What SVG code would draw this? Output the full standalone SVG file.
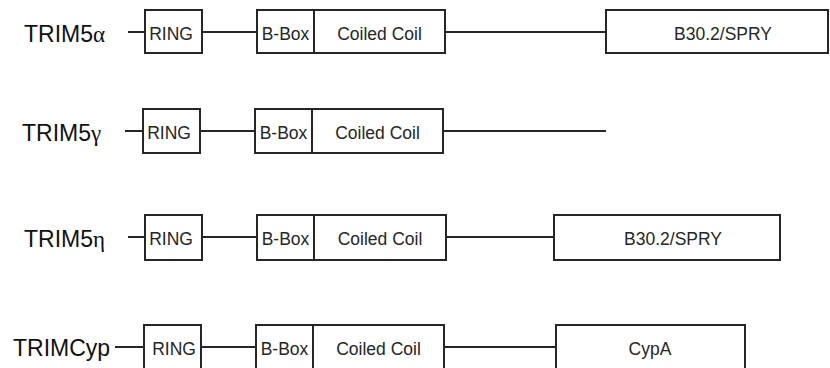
<svg xmlns="http://www.w3.org/2000/svg" width="830" height="368" viewBox="0 0 830 368">
<style>
.box{fill:#fff;stroke:#262626;stroke-width:2}
.ln{stroke:#262626;stroke-width:2;fill:none}
.t{font-family:"Liberation Sans",Arial,sans-serif;font-size:17.5px;fill:#262626;text-anchor:middle}
.lbl{font-family:"Liberation Sans",Arial,sans-serif;font-size:23px;fill:#111}
.gr{font-family:"Liberation Serif","Times New Roman",serif}
</style>
<rect width="830" height="368" fill="#fff"/>
<g id="connectors">
<line class="ln" x1="128" y1="32" x2="145" y2="32"/>
<line class="ln" x1="202" y1="32" x2="257" y2="32"/>
<line class="ln" x1="445" y1="32" x2="606" y2="32"/>
<line class="ln" x1="125" y1="131" x2="143" y2="131"/>
<line class="ln" x1="200" y1="131" x2="255" y2="131"/>
<line class="ln" x1="443" y1="131" x2="606" y2="131"/>
<line class="ln" x1="128" y1="237" x2="145" y2="237"/>
<line class="ln" x1="202" y1="237" x2="257" y2="237"/>
<line class="ln" x1="446" y1="237" x2="554" y2="237"/>
<line class="ln" x1="115" y1="347" x2="144" y2="347"/>
<line class="ln" x1="201" y1="347" x2="256" y2="347"/>
<line class="ln" x1="444" y1="347" x2="556" y2="347"/>
</g>
<g id="row1">
<text class="lbl" x="24" y="42">TRIM5<tspan class="gr">α</tspan></text>
<g id="r1-ring"><rect class="box" x="145" y="10" width="57" height="43"/><text class="t" x="171" y="39.5">RING</text></g>
<g id="r1-bbox"><rect class="box" x="257" y="10" width="57" height="43"/><text class="t" x="285.5" y="39.5">B-Box</text></g>
<g id="r1-cc"><rect class="box" x="314" y="10" width="131" height="43"/><text class="t" x="379.5" y="39.5">Coiled Coil</text></g>
<g id="r1-spry"><rect class="box" x="606" y="10" width="222" height="43"/><text class="t" x="723" y="39.5">B30.2/SPRY</text></g>
</g>
<g id="row2">
<text class="lbl" x="22" y="141">TRIM5<tspan class="gr">γ</tspan></text>
<g id="r2-ring"><rect class="box" x="143" y="109" width="57" height="44"/><text class="t" x="169" y="138.5">RING</text></g>
<g id="r2-bbox"><rect class="box" x="255" y="109" width="57" height="44"/><text class="t" x="283.5" y="138.5">B-Box</text></g>
<g id="r2-cc"><rect class="box" x="312" y="109" width="131" height="44"/><text class="t" x="377.5" y="138.5">Coiled Coil</text></g>
</g>
<g id="row3">
<text class="lbl" x="24" y="247">TRIM5<tspan class="gr">η</tspan></text>
<g id="r3-ring"><rect class="box" x="145" y="215" width="57" height="45"/><text class="t" x="171" y="244.5">RING</text></g>
<g id="r3-bbox"><rect class="box" x="257" y="215" width="57" height="45"/><text class="t" x="285.5" y="244.5">B-Box</text></g>
<g id="r3-cc"><rect class="box" x="314" y="215" width="132" height="45"/><text class="t" x="380" y="244.5">Coiled Coil</text></g>
<g id="r3-spry"><rect class="box" x="554" y="215" width="226" height="45"/><text class="t" x="673" y="244.5">B30.2/SPRY</text></g>
</g>
<g id="row4">
<text class="lbl" x="13" y="356">TRIMCyp</text>
<g id="r4-ring"><rect class="box" x="144" y="325" width="57" height="44"/><text class="t" x="174" y="354.5">RING</text></g>
<g id="r4-bbox"><rect class="box" x="256" y="325" width="57" height="44"/><text class="t" x="284.5" y="354.5">B-Box</text></g>
<g id="r4-cc"><rect class="box" x="313" y="325" width="131" height="44"/><text class="t" x="378.5" y="354.5">Coiled Coil</text></g>
<g id="r4-cypa"><rect class="box" x="556" y="325" width="189" height="44"/><text class="t" x="650" y="354.5">CypA</text></g>
</g>
</svg>
